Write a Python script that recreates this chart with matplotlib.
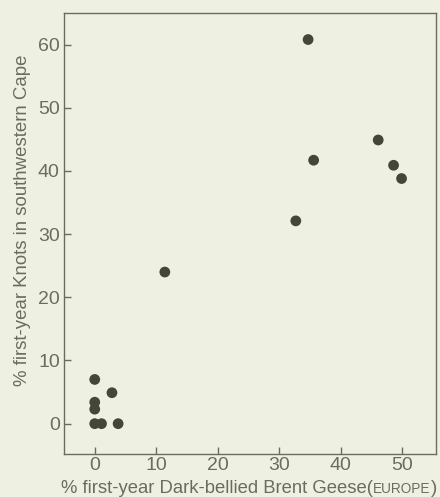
import matplotlib
matplotlib.use("Agg")
import matplotlib.pyplot as plt

# First-year proportions (%)
brent_geese = [34.7, 35.6, 32.7, 46.1, 48.6, 49.9, 11.4,
               0.0, 0.0, 0.0, 0.0, 1.1, 3.8, 2.8]
knots = [60.8, 41.7, 32.1, 44.9, 40.9, 38.8, 24.0,
         7.0, 3.4, 2.3, 0.0, 0.0, 0.0, 4.9]

x_ticks = [0, 10, 20, 30, 40, 50]
y_ticks = [0, 10, 20, 30, 40, 50, 60]

BG = "#eef1e2"
INK = "#6c6c5e"
DOT = "#45453a"

plt.rcParams["font.family"] = ["Liberation Sans", "DejaVu Sans"]

fig = plt.figure(figsize=(4.4, 4.97), dpi=100, facecolor=BG)
ax = fig.add_axes([64 / 440, 1 - 454 / 497, 372 / 440, 441 / 497])
ax.set_facecolor(BG)

ax.scatter(brent_geese, knots, s=60, color=DOT, edgecolors="none", zorder=3)

ax.set_xlim(-5, 55.5)
ax.set_ylim(-4.8, 65)
ax.set_xticks(x_ticks)
ax.set_yticks(y_ticks)
ax.tick_params(direction="in", length=5, width=1, colors=INK,
               labelsize=14, pad=3)
ax.tick_params(axis="x", pad=2)
for spine in ax.spines.values():
    spine.set_color(INK)
    spine.set_linewidth(1)

ax.set_ylabel("% first-year Knots in southwestern Cape", color=INK,
              fontsize=13.4)
ax.yaxis.set_label_coords(-33 / 372, 0.53)

# x label with small-caps style region name
fig.canvas.draw()
renderer = fig.canvas.get_renderer()
pieces = [("% first-year Dark-bellied Brent Geese(", 13.3),
          ("EUROPE", 9.8),
          (")", 13.3)]
texts = []
for s, size in pieces:
    t = fig.text(0, 0, s, fontsize=size, color=INK, va="baseline")
    texts.append(t)
widths = [t.get_window_extent(renderer).width for t in texts]
total = sum(widths)
x0 = 437 - total
base_y = 1 - 493 / 497
for t, w in zip(texts, widths):
    t.set_position((x0 / 440, base_y))
    x0 += w

fig.savefig("out.png", dpi=100, facecolor=BG)
